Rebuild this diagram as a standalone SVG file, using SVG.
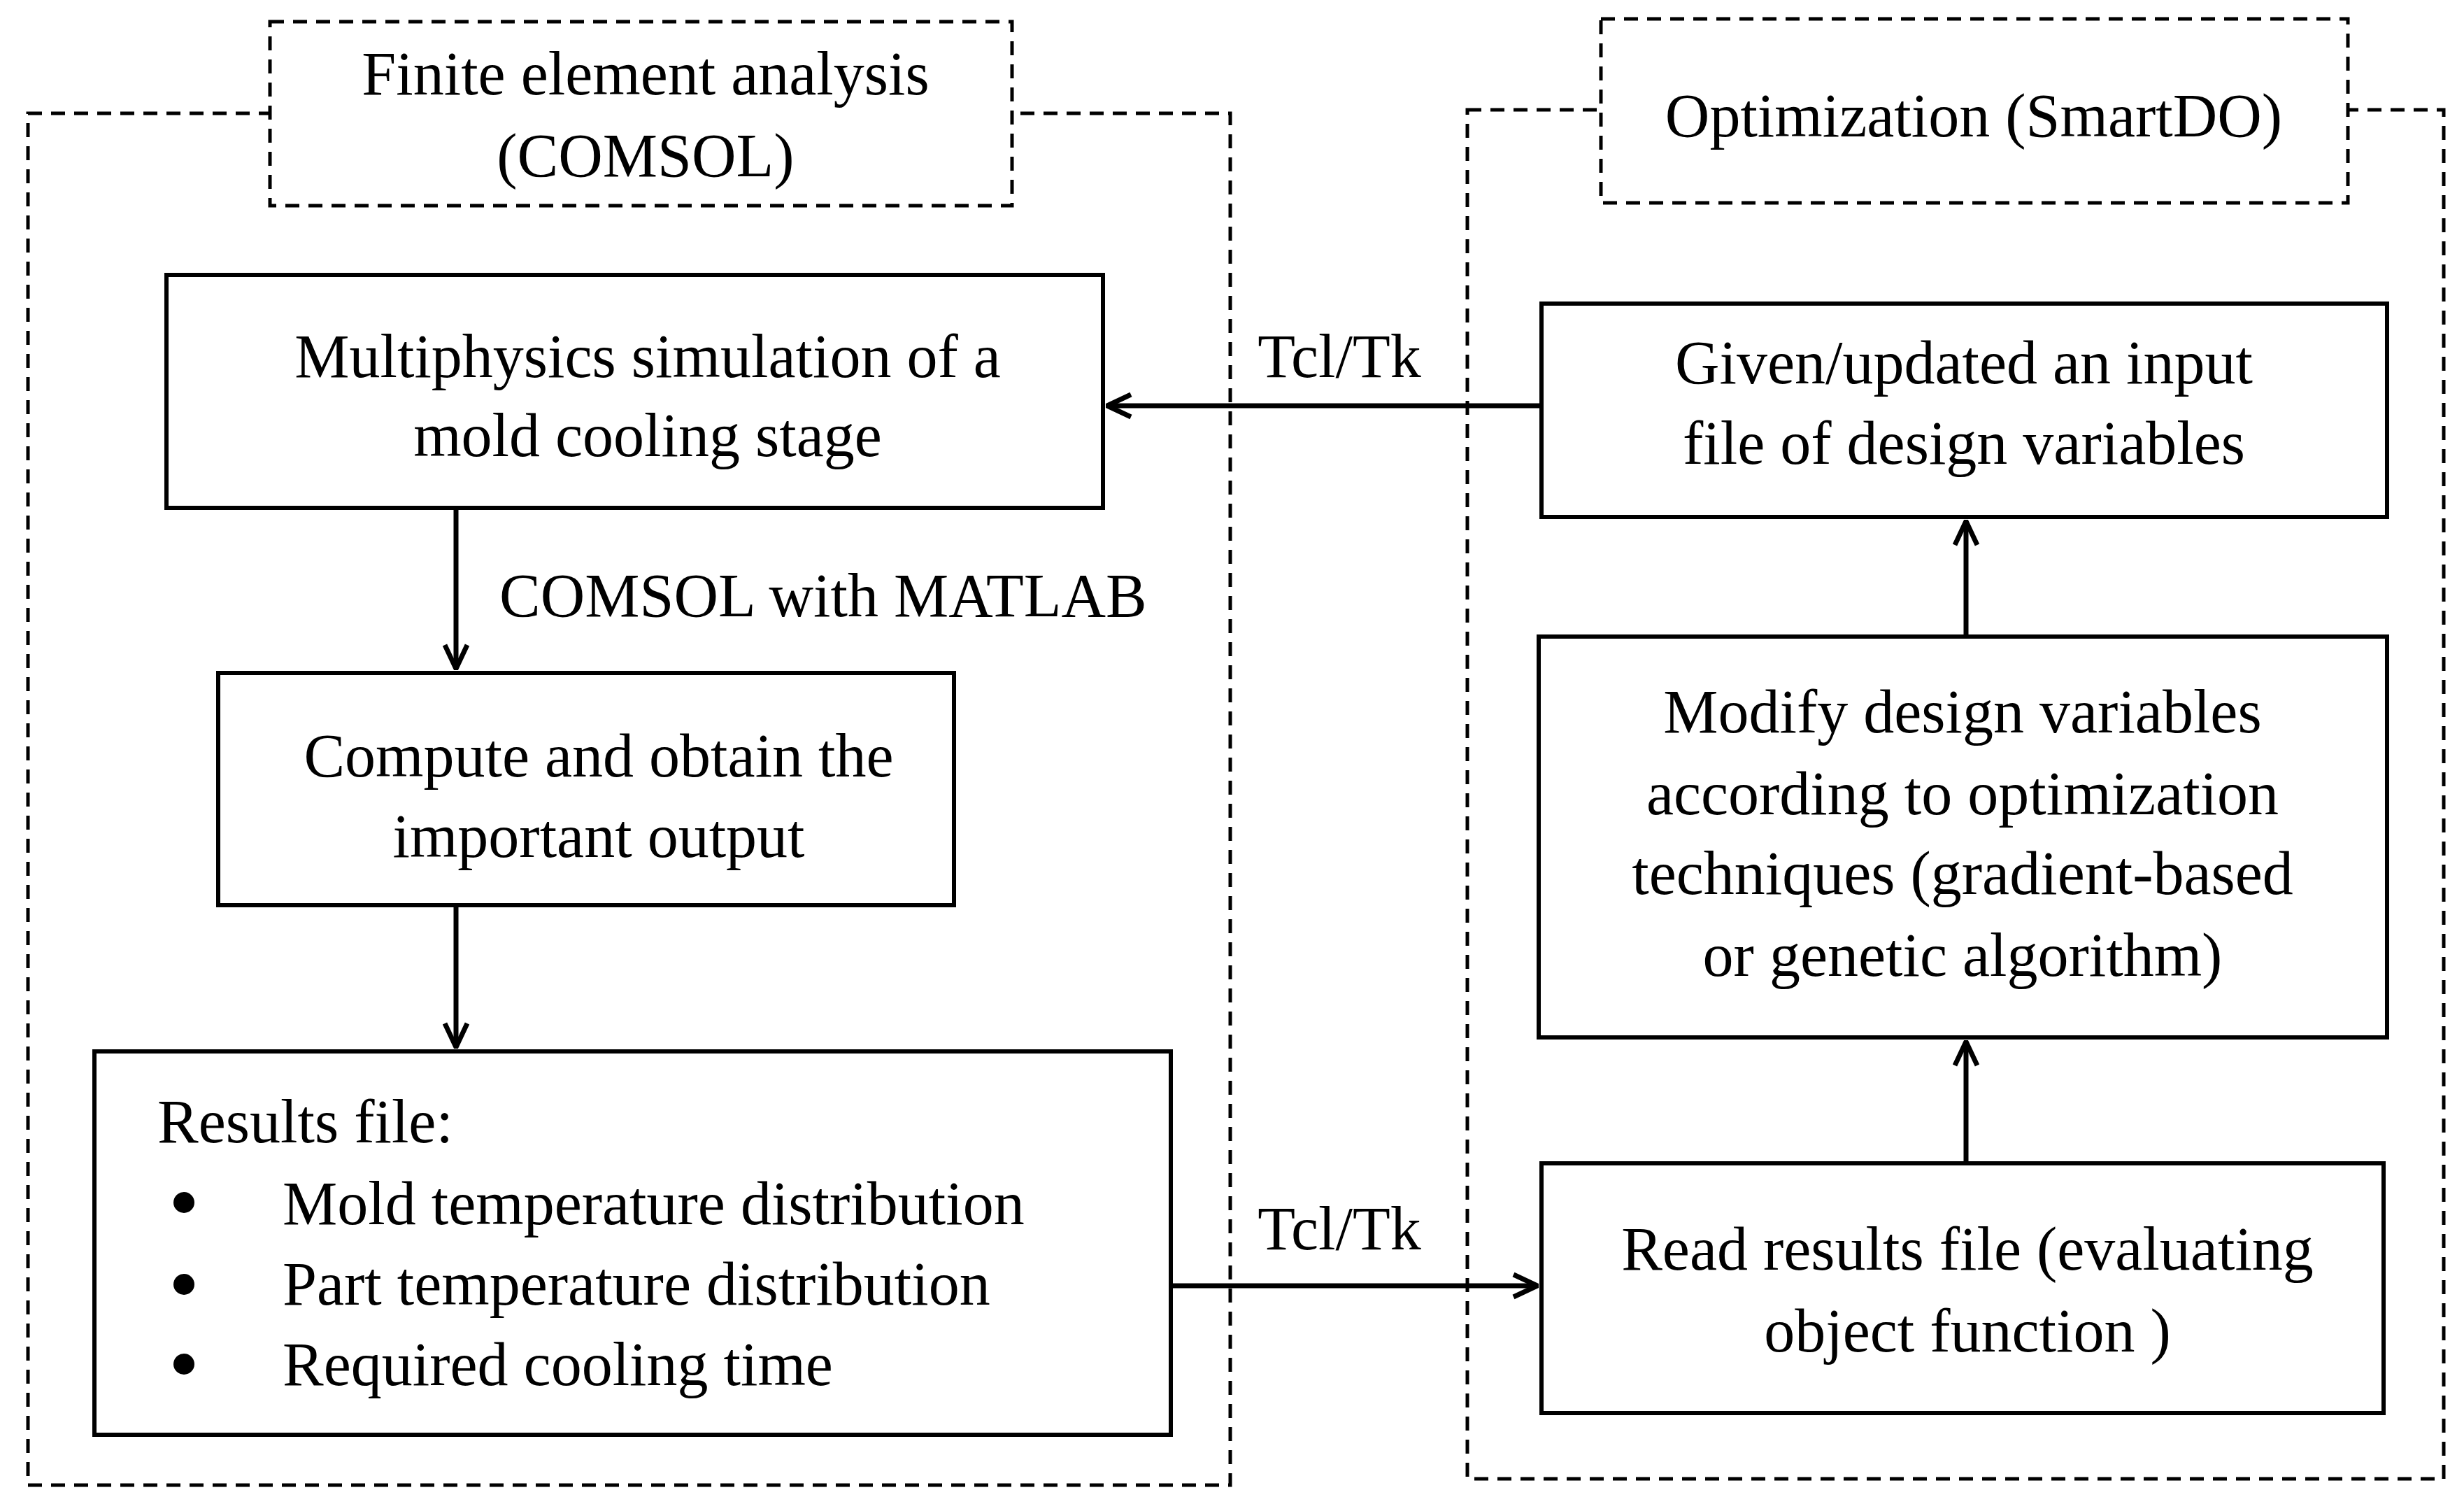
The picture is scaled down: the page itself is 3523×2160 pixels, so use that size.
<svg xmlns="http://www.w3.org/2000/svg" width="3523" height="2160" viewBox="0 0 3523 2160">
<style>
.d{fill:none;stroke:#000;stroke-width:5;stroke-dasharray:20 13}
.b{fill:#fff;stroke:#000;stroke-width:6}
.t{font-family:"Liberation Serif","Times New Roman",serif;font-size:88px;fill:#000}
.m{text-anchor:middle}
.c{stroke:#000;stroke-width:7;fill:none}
</style>
<defs><marker id="a" viewBox="0 0 10 10" refX="9" refY="5" markerWidth="6" markerHeight="6" markerUnits="userSpaceOnUse" orient="auto" style="overflow:visible"><path d="M0,0 L10,5 L0,10" fill="none" stroke="#000" stroke-width="1.6" transform="scale(1)"/></marker>
<marker id="h" viewBox="0 0 40 40" refX="38" refY="20" markerWidth="40" markerHeight="40" markerUnits="userSpaceOnUse" orient="auto"><path d="M4,4 L38,20 L4,36" fill="none" stroke="#000" stroke-width="7"/></marker></defs>
<g id="fea-group"><rect class="d" x="40" y="162" width="1719" height="1961"/><rect class="d" x="386" y="31" width="1061" height="263" fill="#fff" style="fill:#fff"/>
<text class="t m" x="923" y="135">Finite element analysis</text><text class="t m" x="923" y="252">(COMSOL)</text></g>
<g id="opt-group"><rect class="d" x="2098" y="157" width="1396" height="1957"/><rect class="d" x="2289" y="27" width="1068" height="263" style="fill:#fff"/>
<text class="t m" x="2822" y="195">Optimization (SmartDO)</text></g>
<g id="n1"><rect class="b" x="238" y="393" width="1339" height="333"/><text class="t m" x="926" y="539">Multiphysics simulation of a</text><text class="t m" x="926" y="652">mold cooling stage</text></g>
<g id="n2"><rect class="b" x="312" y="962" width="1052" height="332"/><text class="t m" x="856" y="1110">Compute and obtain the</text><text class="t m" x="856" y="1225">important output</text></g>
<g id="n3"><rect class="b" x="135" y="1503" width="1539" height="548"/><text class="t" x="225" y="1633">Results file:</text>
<circle cx="263" cy="1719" r="15"/><circle cx="263" cy="1836" r="15"/><circle cx="263" cy="1950" r="15"/>
<text class="t" x="404" y="1750">Mold temperature distribution</text><text class="t" x="404" y="1865">Part temperature distribution</text><text class="t" x="404" y="1980">Required cooling time</text></g>
<g id="r1"><rect class="b" x="2204" y="434" width="1209" height="305"/><text class="t m" x="2808" y="548">Given/updated an input</text><text class="t m" x="2808" y="663">file of design variables</text></g>
<g id="r2"><rect class="b" x="2200" y="910" width="1213" height="573"/><text class="t m" x="2806" y="1047">Modify design variables</text><text class="t m" x="2806" y="1164">according to optimization</text><text class="t m" x="2806" y="1278">techniques (gradient-based</text><text class="t m" x="2806" y="1395">or genetic algorithm)</text></g>
<g id="r3"><rect class="b" x="2204" y="1663" width="1204" height="357"/><text class="t m" x="2813" y="1815">Read results file (evaluating</text><text class="t m" x="2813" y="1932">object function )</text></g>
<g id="connectors">
<line class="c" x1="652" y1="726" x2="652" y2="956" marker-end="url(#h)"/>
<line class="c" x1="652" y1="1294" x2="652" y2="1497" marker-end="url(#h)"/>
<line class="c" x1="2204" y1="580" x2="1583" y2="580" marker-end="url(#h)"/>
<line class="c" x1="1674" y1="1838" x2="2198" y2="1838" marker-end="url(#h)"/>
<line class="c" x1="2811" y1="1663" x2="2811" y2="1489" marker-end="url(#h)"/>
<line class="c" x1="2811" y1="910" x2="2811" y2="745" marker-end="url(#h)"/>
<text class="t m" x="1915" y="539">Tcl/Tk</text><text class="t m" x="1915" y="1786">Tcl/Tk</text>
<text class="t" x="714" y="881">COMSOL with MATLAB</text></g>
</svg>
